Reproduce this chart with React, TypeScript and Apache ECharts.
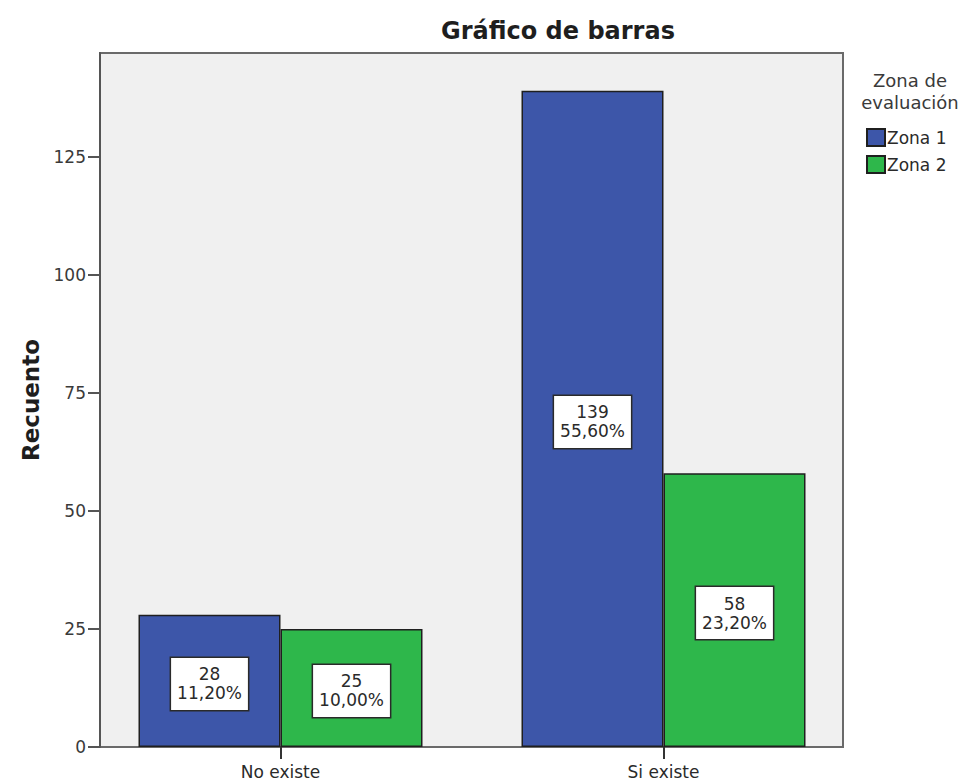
import React, { useEffect, useRef } from "react";
import * as echarts from "echarts";

const categories = ["No existe", "Si existe"];
const zona1 = [28, 139];
const zona2 = [25, 58];
const pct1 = ["11,20%", "55,60%"];
const pct2 = ["10,00%", "23,20%"];
const yTicks = [0, 25, 50, 75, 100, 125];
const seriesNames = ["Zona 1", "Zona 2"];

const FONT = "DejaVu Sans";

export default function App() {
  const ref = useRef<HTMLDivElement>(null);
  useEffect(() => {
    if (!ref.current) return;
    const chart = echarts.init(ref.current, null, { renderer: "svg" });
    const label = (pcts: string[]) => ({
      show: true,
      position: "inside",
      offset: [0, 3],
      formatter: (p: any) => `${p.value}\n${pcts[p.dataIndex]}`,
      backgroundColor: "#ffffff",
      borderColor: "#2a2a2a",
      borderWidth: 1.5,
      padding: [7, 6],
      fontFamily: FONT,
      fontSize: 17,
      lineHeight: 19,
      color: "#2a2a2a",
      align: "center",
    });
    chart.setOption({
      animation: false,
      backgroundColor: "#ffffff",
      title: {
        text: "Gráfico de barras",
        left: 436,
        top: 14,
        textStyle: { fontFamily: FONT, fontWeight: "bold", fontSize: 24, color: "#1e1e1e" },
      },
      graphic: [
        {
          type: "rect",
          z: -10,
          silent: true,
          shape: { x: 100, y: 53, width: 743, height: 694 },
          style: { fill: "#f0f0f0", stroke: "#6a6a6a", lineWidth: 2 },
        },
        {
          type: "text",
          x: 910,
          y: 69,
          style: {
            text: "Zona de\nevaluación",
            align: "center",
            fontFamily: FONT,
            fontSize: 18,
            lineHeight: 22,
            fill: "#3a3a3a",
          },
        },
      ],
      legend: {
        data: seriesNames,
        orient: "vertical",
        left: 866,
        top: 128,
        padding: 0,
        itemWidth: 18,
        itemHeight: 17,
        itemGap: 8,
        icon: "rect",
        textStyle: { fontFamily: FONT, fontSize: 17, color: "#2a2a2a", padding: [0, 0, 0, -3] },
      },
      grid: { left: 89, width: 766, top: 53, bottom: 35, containLabel: false },
      xAxis: {
        type: "category",
        data: categories,
        axisLine: { show: false },
        axisTick: { show: true, alignWithLabel: true, length: 12, lineStyle: { color: "#333", width: 2 } },
        axisLabel: { margin: 16, fontFamily: FONT, fontSize: 17, color: "#2a2a2a" },
      },
      yAxis: {
        type: "value",
        min: 0,
        max: 147,
        interval: 25,
        offset: -11,
        name: "Recuento",
        nameLocation: "middle",
        nameGap: 58,
        nameTextStyle: { fontFamily: FONT, fontWeight: "bold", fontSize: 23, color: "#1e1e1e" },
        splitLine: { show: false },
        axisLine: { show: true, lineStyle: { color: "#555", width: 2 } },
        axisTick: { show: true, length: 12, customValues: yTicks, lineStyle: { color: "#555", width: 2 } },
        axisLabel: { margin: 14, customValues: yTicks, fontFamily: FONT, fontSize: 17, color: "#3a3a3a" },
      },
      series: [
        {
          name: seriesNames[0],
          type: "bar",
          data: zona1,
          barWidth: 142,
          barGap: "0%",
          itemStyle: { color: "#3d56a9", borderColor: "#1f1f1f", borderWidth: 1.5 },
          label: label(pct1),
        },
        {
          name: seriesNames[1],
          type: "bar",
          data: zona2,
          barWidth: 142,
          barGap: "0%",
          itemStyle: { color: "#2eb74b", borderColor: "#1f1f1f", borderWidth: 1.5 },
          label: label(pct2),
        },
      ],
    });
    return () => chart.dispose();
  }, []);
  return (
    <div
      ref={ref}
      style={{ position: "fixed", left: 0, top: 0, width: 968, height: 782 }}
    />
  );
}
